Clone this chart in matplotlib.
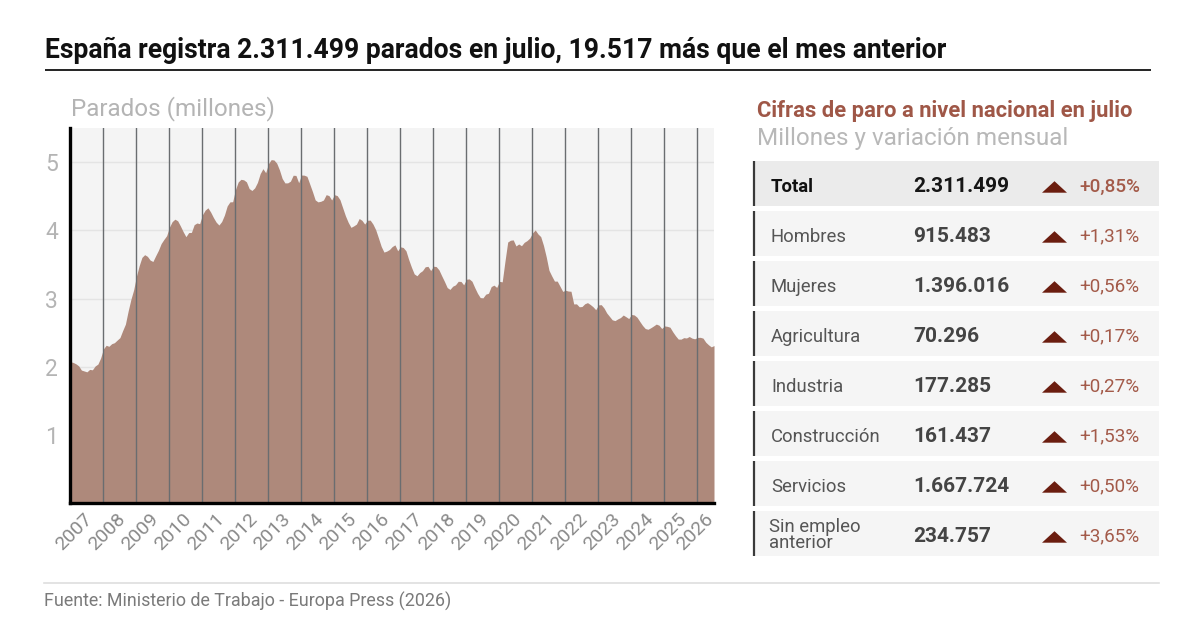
import matplotlib
matplotlib.use('Agg')
import matplotlib.pyplot as plt
from matplotlib.patches import Rectangle, Polygon
import numpy as np

plt.rcParams['font.family'] = ['Roboto', 'DejaVu Sans']

# ---------------- data ----------------
start_year = 2007
years = list(range(2007, 2027))
# monthly registered unemployment (millions), Jan 2007 .. Jul 2026
parados = [
    2.074, 2.063, 2.043, 2.013, 1.951, 1.938, 1.925, 1.961, 1.955, 2.011, 2.039, 2.129,  # 2007
    2.261, 2.315, 2.300, 2.338, 2.353, 2.391, 2.427, 2.530, 2.625, 2.818, 2.989, 3.128,  # 2008
    3.327, 3.482, 3.605, 3.645, 3.620, 3.565, 3.545, 3.629, 3.709, 3.808, 3.869, 3.924,  # 2009
    4.048, 4.130, 4.166, 4.142, 4.066, 3.982, 3.909, 3.969, 3.972, 4.085, 4.110, 4.100,  # 2010
    4.231, 4.299, 4.333, 4.270, 4.190, 4.122, 4.080, 4.131, 4.226, 4.360, 4.420, 4.422,  # 2011
    4.599, 4.712, 4.751, 4.744, 4.714, 4.615, 4.587, 4.625, 4.705, 4.834, 4.907, 4.848,  # 2012
    4.980, 5.040, 5.035, 4.989, 4.890, 4.763, 4.698, 4.699, 4.724, 4.811, 4.808, 4.701,  # 2013
    4.814, 4.812, 4.795, 4.684, 4.572, 4.449, 4.420, 4.428, 4.447, 4.526, 4.512, 4.448,  # 2014
    4.525, 4.512, 4.452, 4.333, 4.215, 4.120, 4.046, 4.067, 4.094, 4.176, 4.149, 4.094,  # 2015
    4.150, 4.152, 4.094, 4.011, 3.891, 3.767, 3.683, 3.697, 3.721, 3.764, 3.789, 3.702,  # 2016
    3.760, 3.750, 3.702, 3.573, 3.461, 3.363, 3.335, 3.382, 3.410, 3.467, 3.474, 3.412,  # 2017
    3.476, 3.470, 3.422, 3.335, 3.252, 3.162, 3.135, 3.182, 3.202, 3.254, 3.252, 3.202,  # 2018
    3.285, 3.289, 3.255, 3.163, 3.079, 3.015, 3.011, 3.065, 3.079, 3.177, 3.198, 3.164,  # 2019
    3.253, 3.246, 3.548, 3.831, 3.857, 3.862, 3.773, 3.802, 3.776, 3.826, 3.851, 3.888,  # 2020
    3.964, 4.008, 3.949, 3.910, 3.781, 3.614, 3.416, 3.333, 3.257, 3.257, 3.182, 3.106,  # 2021
    3.123, 3.111, 3.108, 2.922, 2.923, 2.880, 2.884, 2.924, 2.941, 2.914, 2.881, 2.837,  # 2022
    2.908, 2.911, 2.862, 2.789, 2.739, 2.689, 2.677, 2.702, 2.722, 2.759, 2.734, 2.707,  # 2023
    2.767, 2.760, 2.727, 2.666, 2.607, 2.561, 2.550, 2.572, 2.598, 2.626, 2.610, 2.561,  # 2024
    2.599, 2.593, 2.580, 2.513, 2.455, 2.406, 2.405, 2.427, 2.422, 2.444, 2.420, 2.410,  # 2025
    2.430, 2.432, 2.420, 2.360, 2.322, 2.292, 2.311,                                     # 2026
]
yticks = [1, 2, 3, 4, 5]

row_labels = ["Total", "Hombres", "Mujeres", "Agricultura", "Industria",
              "Construcción", "Servicios", "Sin empleo\nanterior"]
row_values = ["2.311.499", "915.483", "1.396.016", "70.296", "177.285",
              "161.437", "1.667.724", "234.757"]
row_changes = ["+0,85%", "+1,31%", "+0,56%", "+0,17%", "+0,27%",
               "+1,53%", "+0,50%", "+3,65%"]

title = "España registra 2.311.499 parados en julio, 19.517 más que el mes anterior"
source = "Fuente: Ministerio de Trabajo - Europa Press (2026)"

# ---------------- figure ----------------
W, H = 1200, 637
fig = plt.figure(figsize=(12, 6.37), dpi=100)
fig.patch.set_facecolor('white')
bg = fig.add_axes([0, 0, 1, 1])
bg.set_xlim(0, W)
bg.set_ylim(H, 0)
bg.axis('off')
bg.set_zorder(0)


def fax(x0, y0, x1, y1):
    return [x0 / W, 1 - y1 / H, (x1 - x0) / W, (y1 - y0) / H]


# title and rule
bg.text(45, 58.5, title, fontsize=19.1, fontweight='bold', color='#111111',
        ha='left', va='baseline')
bg.plot([45, 1151], [70, 70], color='#111111', lw=1.3, solid_capstyle='butt')

# chart
ax = fig.add_axes(fax(70.4, 128.3, 714, 503))
ax.set_zorder(1)
ax.set_facecolor('#f4f4f4')
t = start_year + np.arange(len(parados)) / 12.0
ax.fill_between(t, parados, 0, color='#ae897b', lw=0, zorder=2)
ax.set_xlim(start_year, t[-1])
ax.set_ylim(0, 5.5)
for y in yticks:
    ax.axhline(y, color='#e4e4e4', lw=1, zorder=1)
for yr in years[1:]:
    ax.axvline(yr, color='#6a6d70', lw=1, zorder=3)
ax.set_yticks(yticks)
ax.set_yticklabels([str(v) for v in yticks], fontsize=16.5, color='#b4b4b4')
x_lab_pos = np.minimum(np.array(years) + 0.40, t[-1] - 0.30)
ax.set_xticks(x_lab_pos)
ax.set_xticklabels([str(y) for y in years], rotation=45, ha='right',
                   rotation_mode='anchor', fontsize=14, color='#8a8a8a')
ax.tick_params(axis='both', length=0)
ax.tick_params(axis='y', pad=9)
ax.tick_params(axis='x', pad=5)
for s in ['top', 'right']:
    ax.spines[s].set_visible(False)
for s in ['left', 'bottom']:
    ax.spines[s].set_color('black')
    ax.spines[s].set_linewidth(2.4)
    ax.spines[s].set_zorder(5)

bg.text(71, 115, "Parados (millones)", fontsize=17.5, color='#b4b4b4',
        ha='left', va='baseline')

# right panel
bg.text(757, 116.5, "Cifras de paro a nivel nacional en julio", fontsize=15.8,
        fontweight='bold', color='#9f5747', ha='left', va='baseline')
bg.text(757, 145, "Millones y variación mensual", fontsize=17.5,
        color='#b8b8b8', ha='left', va='baseline')

row_top0, row_h, row_pitch = 160.7, 45, 50
for i, (lab, val, chg) in enumerate(zip(row_labels, row_values, row_changes)):
    top = row_top0 + i * row_pitch
    is_total = (i == 0)
    bg.add_patch(Rectangle((754, top), 1159 - 754, row_h,
                           facecolor='#ebebeb' if is_total else '#f5f5f5',
                           edgecolor='none', zorder=1))
    bg.plot([754, 754], [top, top + row_h], color='#3a3a3a', lw=1.6,
            solid_capstyle='butt', zorder=2)
    base = top + 31
    if "\n" in lab:
        l1, l2 = lab.split("\n")
        bg.text(769, top + 21, l1, fontsize=13.3, color='#555555',
                ha='left', va='baseline', zorder=3)
        bg.text(769, top + 37, l2, fontsize=13.3, color='#555555',
                ha='left', va='baseline', zorder=3)
    else:
        bg.text(771, base, lab, fontsize=13.3,
                fontweight='bold' if is_total else 'normal',
                color='#111111' if is_total else '#555555',
                ha='left', va='baseline', zorder=3)
    bg.text(913, base, val, fontsize=15, fontweight='bold',
            color='#161616' if is_total else '#444444',
            ha='left', va='baseline', zorder=3)
    cy = top + 26.5
    bg.add_patch(Polygon([(1042, cy + 5.5), (1067, cy + 5.5), (1054.5, cy - 6)],
                         closed=True, facecolor='#6b1d0f', edgecolor='none',
                         zorder=3))
    bg.text(1079, base, chg, fontsize=13.6,
            fontweight='medium' if is_total else 'normal',
            color='#a35a49', ha='left', va='baseline', zorder=3)

# footer
bg.plot([44, 1159], [583, 583], color='#dedede', lw=1.2)
bg.text(44, 607, source, fontsize=12.9, color='#7a7a7a', ha='left',
        va='baseline')

fig.savefig('out.png', dpi=100, facecolor='white')
